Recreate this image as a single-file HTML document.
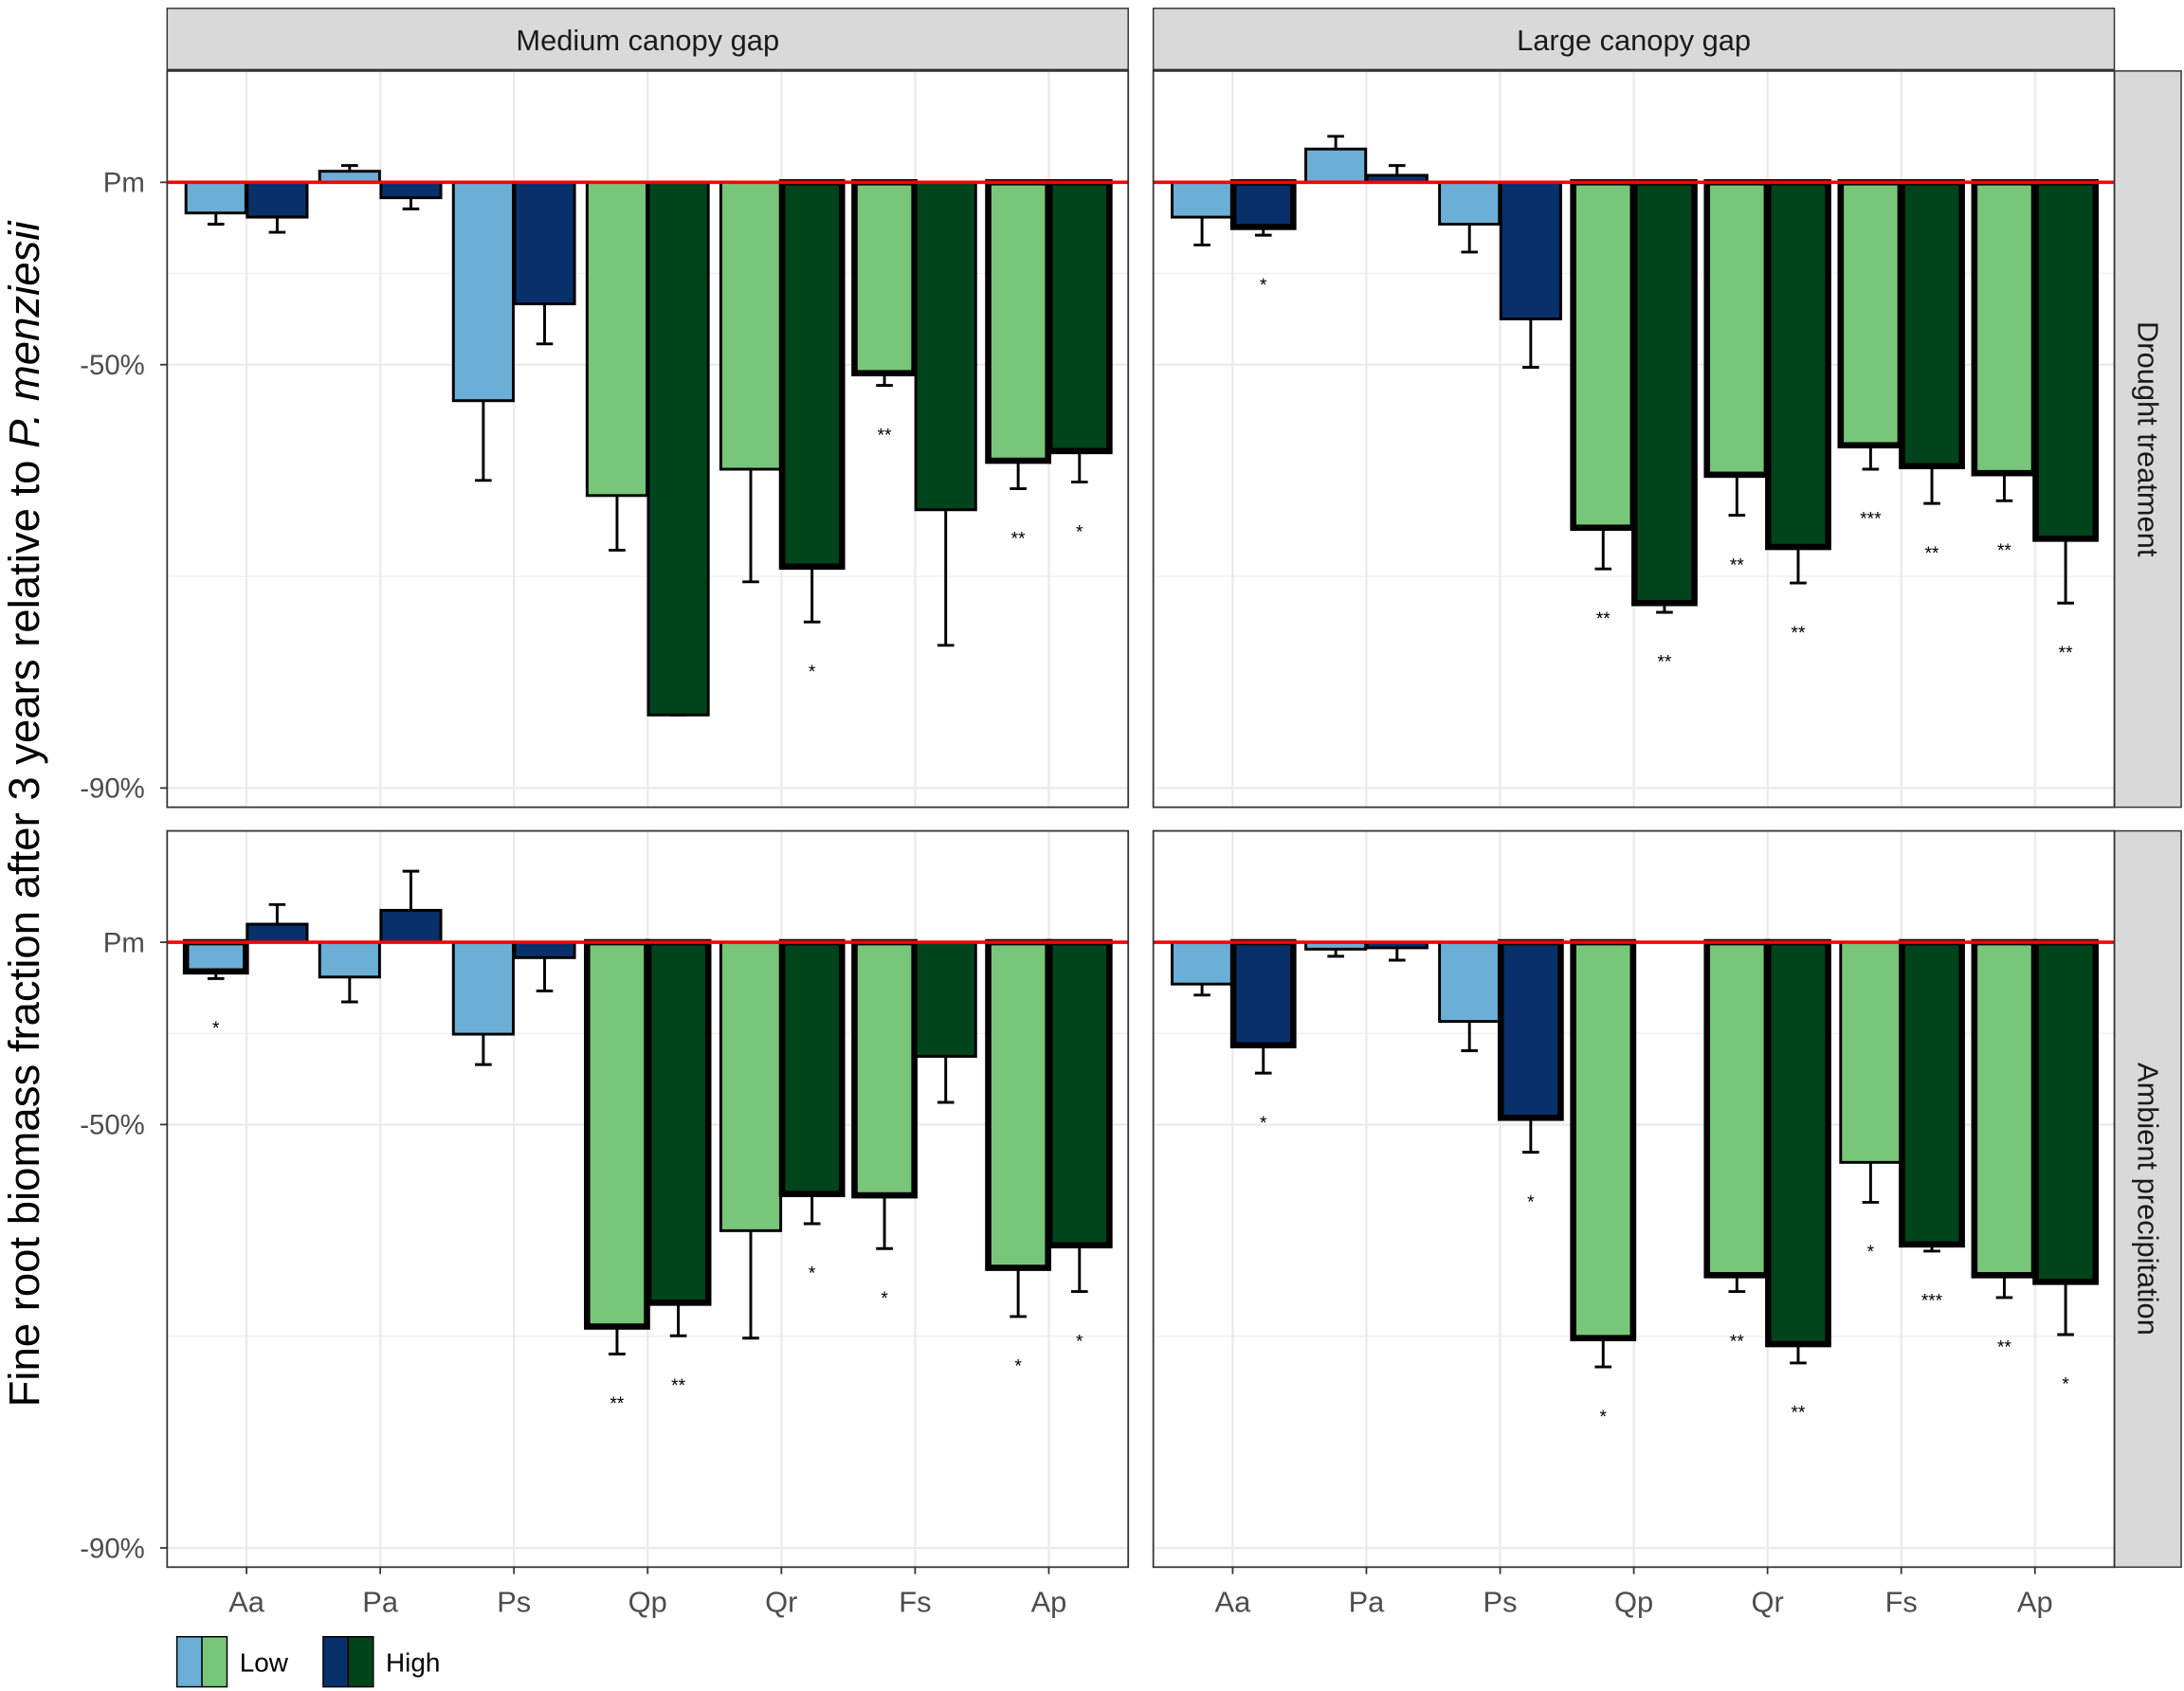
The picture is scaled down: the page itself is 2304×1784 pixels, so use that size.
<!DOCTYPE html>
<html><head><meta charset="utf-8"><style>html,body{margin:0;padding:0;background:#fff}svg{display:block}text{font-family:"Liberation Sans",sans-serif}</style></head>
<body>
<svg id="chart" width="2304" height="1784" viewBox="0 0 1568 1215" preserveAspectRatio="none" xmlns="http://www.w3.org/2000/svg"></svg>
<script>
const categories = ["Aa","Pa","Ps","Qp","Qr","Fs","Ap"];
const colTitles = ["Medium canopy gap","Large canopy gap"];
const rowTitles = ["Drought treatment","Ambient precipitation"];
const yTickValues = [0,-50,-90];
const yTickLabels = ["Pm","-50%","-90%"];
// values in percent relative to Pm; [low, high] per category
const dmLow  = [-11,4.3,-56.4,-69.6,-66.4,-51.6,-65.3];
const dmLowErr = [-14.7,6.6,-67.8,-75.3,-78.1,-53.8,-68.8];
const dmHigh = [-12.4,-5.7,-37,-86.8,-76.8,-71.2,-64];
const dmHighErr = [-17.3,-9.6,-45.9,-86.8,-81.2,-82.8,-68];
const dmLowSig = ["","","","","","**","**"];
const dmHighSig = ["","","","","*","","*"];
const dlLow  = [-12.4,13.5,-14.7,-73.1,-67.1,-63.2,-66.9];
const dlLowErr = [-21.2,19.1,-23.3,-77,-71.8,-66.4,-70.2];
const dlHigh = [-15.6,2.7,-40.5,-79.8,-75,-66,-74.2];
const dlHighErr = [-18.2,6.6,-50.5,-80.5,-78.2,-70.5,-79.8];
const dlLowSig = ["","","","**","**","***","**"];
const dlHighSig = ["*","","","**","**","**","**"];
const amLow  = [-10.5,-12.4,-29.5,-76.8,-66.6,-61.8,-71];
const amLowErr = [-12.9,-20.3,-37.2,-79.1,-77.8,-68.8,-75.9];
const amHigh = [7.1,12.9,-5.7,-74.6,-61.6,-35.2,-68.4];
const amHighErr = [15.4,31,-16.9,-77.6,-65.7,-45.6,-73.5];
const amLowSig = ["*","","","**","","*","*"];
const amHighSig = ["","","","**","*","","*"];
const alLow  = [-14.7,-2.6,-26,-77.8,-71.8,-56.7,-71.8];
const alLowErr = [-18.2,-5.2,-33.8,-80.1,-73.5,-62.8,-74.1];
const alHigh = [-32.4,-2.1,-48.7,null,-78.3,-68.3,-72.5];
const alHighErr = [-39.2,-6.6,-55,null,-79.8,-69.1,-77.5];
const alLowSig = ["","","","*","**","*","**"];
const alHighSig = ["*","","*","","**","***","*"];

const panels = [
 {r:0,c:0,low:dmLow,lowErr:dmLowErr,high:dmHigh,highErr:dmHighErr,ls:dmLowSig,hs:dmHighSig},
 {r:0,c:1,low:dlLow,lowErr:dlLowErr,high:dlHigh,highErr:dlHighErr,ls:dlLowSig,hs:dlHighSig},
 {r:1,c:0,low:amLow,lowErr:amLowErr,high:amHigh,highErr:amHighErr,ls:amLowSig,hs:amHighSig},
 {r:1,c:1,low:alLow,lowErr:alLowErr,high:alHigh,highErr:alHighErr,ls:alLowSig,hs:alHighSig,thinLowIdx:[5]}
];
const svg = document.getElementById('chart');
const NS = "http://www.w3.org/2000/svg";
function el(tag, attrs, parent){const e=document.createElementNS(NS,tag);for(const k in attrs)e.setAttribute(k,attrs[k]);(parent||svg).appendChild(e);return e;}
const colX = [120,828], panelW = 690;
const rowY = [51,597], panelH = 529;
const zeroOff = 80, K = 189;
function yScale(v,row){return rowY[row]+zeroOff - K*Math.log(1+v/100);}
function xScale(i,col){return colX[col]+57+i*96;}
const blue = ["#6baed6","#08306b"], green = ["#78c679","#00441b"];

colTitles.forEach((t,c)=>{
  const g=el('g',{});
  
  
  el('rect',{x:colX[c],y:6,width:panelW,height:44,fill:"#d9d9d9",stroke:"#333","stroke-width":1},g);
  const tx=el('text',{x:colX[c]+panelW/2,y:36,"text-anchor":"middle","font-size":21,fill:"#1a1a1a"},g);tx.textContent=t;
});
rowTitles.forEach((t,r)=>{
  const g=el('g',{});
  
  
  el('rect',{x:1518,y:rowY[r],width:48,height:panelH,fill:"#d9d9d9",stroke:"#333","stroke-width":1},g);
  const cy=rowY[r]+panelH/2;
  const tx=el('text',{x:1542,y:cy,"text-anchor":"middle","font-size":21,fill:"#1a1a1a",transform:`rotate(90 1542 ${cy})`,dy:7},g);tx.textContent=t;
});

panels.forEach(p=>{
  const g=el('g',{});
  
  
  const x0=colX[p.c], y0=rowY[p.r];
  el('rect',{x:x0,y:y0,width:panelW,height:panelH,fill:"#fff"},g);
  [0.423, -0.3466, -1.498].forEach(l=>{
    const yy=y0+zeroOff-K*l;
    el('line',{x1:x0,x2:x0+panelW,y1:yy,y2:yy,stroke:"#f0f0f0","stroke-width":1},g);
  });
  yTickValues.forEach(v=>{const yy=yScale(v,p.r);el('line',{x1:x0,x2:x0+panelW,y1:yy,y2:yy,stroke:"#ebebeb","stroke-width":1.6},g);});
  categories.forEach((c,i)=>{const xx=xScale(i,p.c);el('line',{x1:xx,x2:xx,y1:y0,y2:y0+panelH,stroke:"#ebebeb","stroke-width":1.6},g);});
  const z=yScale(0,p.r);
  categories.forEach((cat,i)=>{
    const pal = i<3?blue:green;
    [[p.low,p.lowErr,p.ls,-1,0],[p.high,p.highErr,p.hs,1,1]].forEach(([vals,errs,sig,side,k])=>{
      const v=vals[i]; if(v===null) return;
      const cx=xScale(i,p.c)+side*22;
      const yv=yScale(v,p.r), ye=yScale(errs[i],p.r);
      const thick = sig[i]!=="" && !(p.thinLowIdx && k===0 && p.thinLowIdx.includes(i));
      const eb=el('path',{d:`M${cx} ${yv} L${cx} ${ye} M${cx-6} ${ye} L${cx+6} ${ye}`,stroke:"#000","stroke-width":2,fill:"none"},g);
      
      
      const b=el('rect',{x:cx-21.5,y:Math.min(yv,z),width:43,height:Math.max(Math.abs(yv-z),0.5),fill:pal[k],stroke:"#000","stroke-width":thick?4.5:2},g);
      
      
      if(sig[i]){
        const st=el('text',{x:cx,y:Math.max(ye,yv)+40,"text-anchor":"middle","font-size":13,fill:"#000"},g);
        
        
        st.textContent=sig[i];
      }
    });
  });
  const rl=el('line',{x1:x0,x2:x0+panelW,y1:z,y2:z,stroke:"#ff0000","stroke-width":2.5},g);
  
  
  el('rect',{x:x0,y:y0,width:panelW,height:panelH,fill:"none",stroke:"#333","stroke-width":1.2},g);
  if(p.c===0){
    yTickValues.forEach((v,j)=>{const yy=yScale(v,p.r);
      el('line',{x1:x0-5,x2:x0,y1:yy,y2:yy,stroke:"#333","stroke-width":1.2},g);
      const t=el('text',{x:x0-16,y:yy+7,"text-anchor":"end","font-size":20,fill:"#4d4d4d"},g);
      
      
      t.textContent=yTickLabels[j];});
  }
  if(p.r===1){
    categories.forEach((cat,i)=>{const xx=xScale(i,p.c);
      el('line',{x1:xx,x2:xx,y1:y0+panelH,y2:y0+panelH+5,stroke:"#333","stroke-width":1.2},g);
      const t=el('text',{x:xx,y:1158,"text-anchor":"middle","font-size":21,fill:"#4d4d4d"},g);
      
      
      t.textContent=cat;});
  }
});
</script>
<svg style="position:absolute;left:0;top:0" width="2304" height="1784" viewBox="0 0 1568 1215" preserveAspectRatio="none" xmlns="http://www.w3.org/2000/svg">
  <text x="28" y="585" transform="rotate(-90 28 585)" text-anchor="middle" font-size="31" fill="#000" font-family="Liberation Sans, sans-serif">Fine root biomass fraction after 3 years relative to  <tspan font-style="italic">P. menziesii</tspan></text>
  <g>
    <rect x="127" y="1176" width="18" height="36" fill="#6baed6" stroke="#000" stroke-width="1"/>
    <rect x="145" y="1176" width="18" height="36" fill="#78c679" stroke="#000" stroke-width="1"/>
    <text x="172" y="1201" font-size="19" fill="#000" font-family="Liberation Sans, sans-serif">Low</text>
    <rect x="232" y="1176" width="18" height="36" fill="#08306b" stroke="#000" stroke-width="1"/>
    <rect x="250" y="1176" width="18" height="36" fill="#00441b" stroke="#000" stroke-width="1"/>
    <text x="277" y="1201" font-size="19" fill="#000" font-family="Liberation Sans, sans-serif">High</text>
  </g>
</svg>
</body></html>
